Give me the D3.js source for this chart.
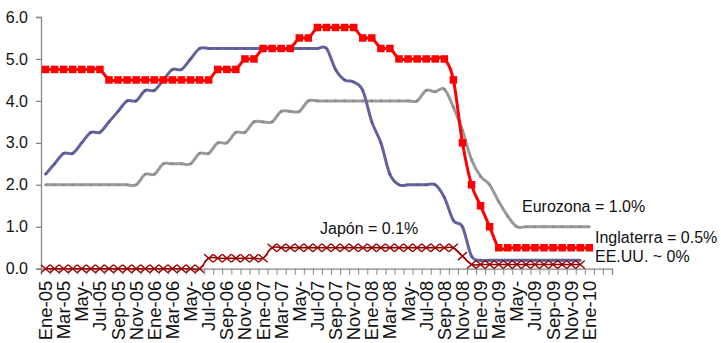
<!DOCTYPE html>
<html>
<head>
<meta charset="utf-8">
<script src="https://cdn.jsdelivr.net/npm/d3@7"></script>
<style>
  html, body { margin: 0; padding: 0; background: #fff; }
  svg { display: block; font-family: "Liberation Sans", Arial, sans-serif; }
</style>
</head>
<body>
<svg id="chart" width="721" height="343"></svg>
<script>
// Monthly policy rates, Jan 2005 onward (%)
const monthNames = ["Ene","Feb","Mar","Abr","May","Jun","Jul","Ago","Sep","Oct","Nov","Dic"];
const years = ["05","06","07","08","09","10"];

// Inglaterra (Bank Rate)
const inglaterra = [
  4.75, 4.75, 4.75, 4.75, 4.75, 4.75, 4.75,
  4.5, 4.5, 4.5, 4.5, 4.5, 4.5, 4.5, 4.5, 4.5, 4.5, 4.5, 4.5,
  4.75, 4.75, 4.75,
  5.0, 5.0,
  5.25, 5.25, 5.25, 5.25,
  5.5, 5.5,
  5.75, 5.75, 5.75, 5.75, 5.75,
  5.5, 5.5,
  5.25, 5.25,
  5.0, 5.0, 5.0, 5.0, 5.0, 5.0,
  4.5, 3.0, 2.0, 1.5, 1.0,
  0.5, 0.5, 0.5, 0.5, 0.5, 0.5, 0.5, 0.5, 0.5, 0.5, 0.5
];

// Eurozona (BCE)
const eurozona = [
  2.0, 2.0, 2.0, 2.0, 2.0, 2.0, 2.0, 2.0, 2.0, 2.0, 2.0,
  2.25, 2.25,
  2.5, 2.5, 2.5, 2.5,
  2.75, 2.75,
  3.0, 3.0,
  3.25, 3.25,
  3.5, 3.5, 3.5,
  3.75, 3.75, 3.75,
  4.0, 4.0, 4.0, 4.0, 4.0, 4.0, 4.0, 4.0, 4.0, 4.0, 4.0, 4.0, 4.0,
  4.25, 4.22, 4.28,
  3.85, 3.3, 2.6, 2.2, 2.0, 1.6, 1.25,
  1.0, 1.0, 1.0, 1.0, 1.0, 1.0, 1.0, 1.0, 1.0
];

// EE.UU. (Fed funds)
const eeuu = [
  2.25, 2.5, 2.75, 2.75, 3.0, 3.25, 3.25, 3.5, 3.75, 4.0, 4.0, 4.25,
  4.25, 4.5, 4.75, 4.75, 5.0, 5.25,
  5.25, 5.25, 5.25, 5.25, 5.25, 5.25, 5.25, 5.25, 5.25, 5.25, 5.25, 5.25, 5.25, 5.25,
  4.75, 4.5, 4.45, 4.25, 3.5, 3.0, 2.25,
  2.0, 2.0, 2.0, 2.0, 2.0,
  1.7, 1.15, 1.0, 0.3,
  0.2, 0.2, 0.2, 0.2, 0.2, 0.2, 0.2, 0.2, 0.2, 0.2, 0.2, 0.2
];

// Japón (BoJ)
const japon = [
  0, 0, 0, 0, 0, 0, 0, 0, 0, 0, 0, 0, 0, 0, 0, 0, 0, 0,
  0.25, 0.25, 0.25, 0.25, 0.25, 0.25, 0.25,
  0.5, 0.5, 0.5, 0.5, 0.5, 0.5, 0.5, 0.5, 0.5, 0.5, 0.5, 0.5, 0.5, 0.5, 0.5, 0.5, 0.5, 0.5, 0.5, 0.5, 0.5,
  0.3,
  0.1, 0.1, 0.1, 0.1, 0.1, 0.1, 0.1, 0.1, 0.1, 0.1, 0.1, 0.1, 0.1
];

// Category axis labels (every other month)
const tickLabels = [
  "Ene-05","Mar-05","May-","Jul-05","Sep-05","Nov-05",
  "Ene-06","Mar-06","May-","Jul-06","Sep-06","Nov-06",
  "Ene-07","Mar-07","May-","Jul-07","Sep-07","Nov-07",
  "Ene-08","Mar-08","May-","Jul-08","Sep-08","Nov-08",
  "Ene-09","Mar-09","May-","Jul-09","Sep-09","Nov-09",
  "Ene-10"
];
const yTicks = [0, 1, 2, 3, 4, 5, 6];

(function draw() {
  // Category list Ene-05 .. Mar-10
  const categories = [];
  years.forEach(yr => monthNames.forEach(m => categories.push(m + "-" + yr)));
  const cats = categories.slice(0, 63);

  const svg = d3.select("#chart");
  const plotLeft = 41, plotRight = 612, plotTop = 17, plotBottom = 268.7;

  const x = d3.scaleBand().domain(cats).range([plotLeft, plotRight]).paddingInner(0).paddingOuter(0);
  const xEdge = d3.scaleLinear().domain([0, cats.length]).range([plotLeft, plotRight]);
  const y = d3.scaleLinear().domain([0, 6]).range([plotBottom, plotTop]);
  const cx = i => x(cats[i]) + x.bandwidth() / 2;

  const axisColor = "#868686";

  // Y axis
  const yAxis = svg.append("g")
    .attr("transform", `translate(${plotLeft},0)`)
    .call(d3.axisLeft(y).tickValues(yTicks).tickSize(5).tickPadding(8).tickFormat(d3.format(".1f")));
  yAxis.select(".domain").attr("stroke", axisColor).attr("stroke-width", 1.3);
  yAxis.selectAll(".tick line").attr("stroke", axisColor).attr("stroke-width", 1.3);
  yAxis.selectAll(".tick text").attr("font-size", 16).attr("fill", "#111")
    .attr("font-family", "Liberation Sans, Arial, sans-serif");

  // X axis (ticks at month boundaries)
  const xAxis = svg.append("g")
    .attr("transform", `translate(0,${plotBottom})`)
    .call(d3.axisBottom(xEdge).tickValues(d3.range(cats.length + 1)).tickSize(6).tickFormat(""));
  xAxis.select(".domain").attr("stroke", axisColor).attr("stroke-width", 1.3);
  xAxis.selectAll(".tick line").attr("stroke", axisColor).attr("stroke-width", 1);

  // X labels, rotated
  svg.append("g").selectAll("text")
    .data(tickLabels)
    .join("text")
    .attr("transform", (d, i) => `translate(${cx(i * 2)},${plotBottom + 12}) rotate(-90)`)
    .attr("text-anchor", "end")
    .attr("dy", "0.35em")
    .attr("font-size", 18.5)
    .attr("fill", "#111")
    .text(d => d);

  const smooth = d3.curveCardinal.tension(0);
  const line = d3.line().x((d, i) => cx(i)).y(d => y(d)).curve(smooth);

  // Eurozona
  svg.append("path").datum(eurozona)
    .attr("d", line).attr("fill", "none").attr("stroke", "#9a9a9a").attr("stroke-width", 3);
  svg.append("g").selectAll("circle").data(eurozona).join("circle")
    .attr("cx", (d, i) => cx(i)).attr("cy", d => y(d)).attr("r", 1.3).attr("fill", "#888");

  // EE.UU.
  svg.append("path").datum(eeuu)
    .attr("d", line).attr("fill", "none").attr("stroke", "#63639f").attr("stroke-width", 3);
  svg.append("g").selectAll("circle").data(eeuu).join("circle")
    .attr("cx", (d, i) => cx(i)).attr("cy", d => y(d)).attr("r", 1.3).attr("fill", "#56568f");

  // Japón
  svg.append("path").datum(japon)
    .attr("d", line).attr("fill", "none").attr("stroke", "#990000").attr("stroke-width", 1.5);
  svg.append("g").selectAll("path").data(japon).join("path")
    .attr("transform", (d, i) => `translate(${cx(i)},${y(d)})`)
    .attr("d", "M-4.5,-4L4.5,4M-4.5,4L4.5,-4")
    .attr("stroke", "#990000").attr("stroke-width", 1.4).attr("fill", "none");

  // Inglaterra
  svg.append("path").datum(inglaterra)
    .attr("d", line).attr("fill", "none").attr("stroke", "#ff0000").attr("stroke-width", 3);
  svg.append("g").selectAll("rect").data(inglaterra).join("rect")
    .attr("x", (d, i) => cx(i) - 3.75).attr("y", d => y(d) - 3.75)
    .attr("width", 7.5).attr("height", 7.5).attr("fill", "#ff0000");

  // Annotations
  const notes = [
    { t: "Japón = 0.1%", x: 320, y: 234 },
    { t: "Eurozona = 1.0%", x: 522, y: 212 },
    { t: "Inglaterra = 0.5%", x: 595, y: 243 },
    { t: "EE.UU. ~ 0%", x: 595, y: 262 }
  ];
  svg.append("g").selectAll("text").data(notes).join("text")
    .attr("x", d => d.x).attr("y", d => d.y)
    .attr("font-size", 16).attr("fill", "#111")
    .text(d => d.t);
})();
</script>
</body>
</html>
